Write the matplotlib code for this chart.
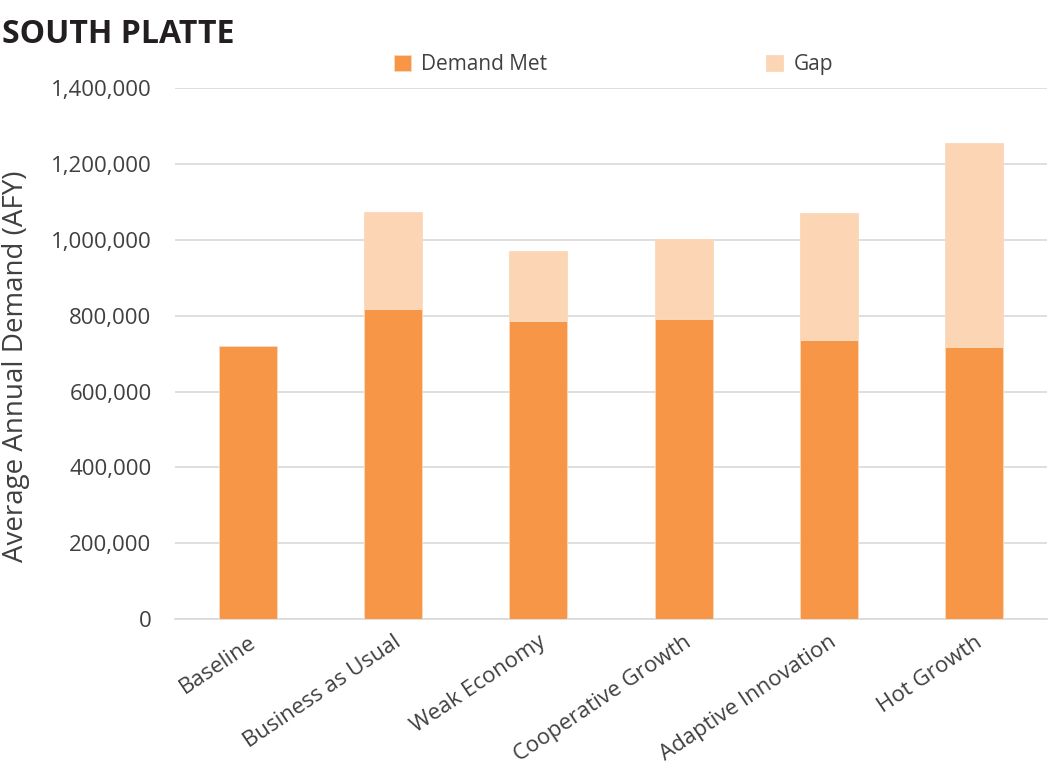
import matplotlib.pyplot as plt
import numpy as np
from matplotlib.ticker import FuncFormatter

# Scenario data (AFY)
scenarios = ["Baseline", "Business as Usual", "Weak Economy",
             "Cooperative Growth", "Adaptive Innovation", "Hot Growth"]
demand_met = [720000, 817000, 786000, 791000, 736000, 717000]
gap = [0, 256000, 184000, 211000, 334000, 538000]

plt.rcParams['font.family'] = ['Open Sans', 'DejaVu Sans']

fig = plt.figure(figsize=(10.49, 7.73), dpi=100)
ax = fig.add_axes([0.167, 0.199, 0.831, 0.687])

x = np.arange(len(scenarios))
width = 0.40
ax.bar(x, demand_met, width, color="#F79646", edgecolor="#FBD9BC", linewidth=0.6,
       label="Demand Met", zorder=3)
ax.bar(x, gap, width, bottom=demand_met, color="#FCD5B5", edgecolor="#FBD9BC",
       linewidth=0.6, label="Gap", zorder=3)

ax.set_xlim(-0.5, len(scenarios) - 0.5)
ax.set_ylim(0, 1400000)
ax.set_yticks(np.arange(0, 1400001, 200000))
ax.yaxis.set_major_formatter(FuncFormatter(lambda v, p: f"{int(v):,}"))
ax.grid(axis="y", color="#D9D9D9", linewidth=1.2, zorder=0)
for s in ["top", "right", "left"]:
    ax.spines[s].set_visible(False)
ax.spines["bottom"].set_color("#D9D9D9")
ax.spines["bottom"].set_linewidth(1.2)
ax.tick_params(length=0, labelsize=16, labelcolor="#404040")
ax.tick_params(axis="y", pad=17)

ax.set_xticks(x)
ax.set_xticklabels(scenarios, rotation=34, ha="right", rotation_mode="anchor")
ax.tick_params(axis="x", pad=9)

ax.set_ylabel("Average Annual Demand (AFY)", fontsize=20, color="#404040")
ax.yaxis.set_label_coords(-0.166, 0.476)

fig.text(0.002, 0.977, "SOUTH PLATTE", fontsize=23, fontweight="bold",
         color="#231F20", va="top", ha="left")

fig.legend(loc="center", bbox_to_anchor=(0.585, 0.916), ncol=2, frameon=False,
           fontsize=15, handlelength=0.8, handleheight=0.8, columnspacing=10.5,
           handletextpad=0.5, labelcolor="#404040")

fig.savefig("out.png", dpi=100)
